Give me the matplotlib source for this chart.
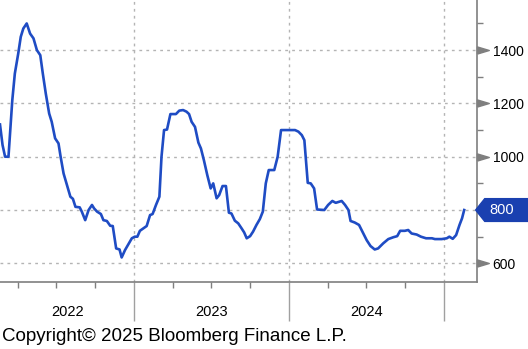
import matplotlib
matplotlib.use("Agg")
import matplotlib.pyplot as plt
import matplotlib.transforms as mtransforms
from matplotlib.path import Path
import numpy as np
import pandas as pd

# --- weekly series ---
dates = [
    "2022-02-18", "2022-02-24", "2022-03-02", "2022-03-10", "2022-03-19", "2022-03-25",
    "2022-04-02", "2022-04-08", "2022-04-14", "2022-04-22", "2022-04-30", "2022-05-08",
    "2022-05-16", "2022-05-24", "2022-05-30", "2022-06-06", "2022-06-14", "2022-06-20",
    "2022-06-28", "2022-07-06", "2022-07-11", "2022-07-18", "2022-07-26", "2022-08-03",
    "2022-08-09", "2022-08-15", "2022-08-25", "2022-08-30", "2022-09-07", "2022-09-15",
    "2022-09-23", "2022-09-28", "2022-10-05", "2022-10-14", "2022-10-20", "2022-10-28",
    "2022-11-05", "2022-11-11", "2022-11-19", "2022-11-27", "2022-12-02", "2022-12-10",
    "2022-12-18", "2022-12-26", "2023-01-02", "2023-01-08", "2023-01-14", "2023-01-22",
    "2023-01-30", "2023-02-07", "2023-02-13", "2023-02-21", "2023-03-01", "2023-03-06",
    "2023-03-12", "2023-03-19", "2023-03-27", "2023-04-09", "2023-04-17", "2023-04-26",
    "2023-05-04", "2023-05-10", "2023-05-16", "2023-05-24", "2023-06-01", "2023-06-07",
    "2023-06-14", "2023-06-22", "2023-06-30", "2023-07-06", "2023-07-14", "2023-07-20",
    "2023-07-28", "2023-08-05", "2023-08-12", "2023-08-18", "2023-08-26", "2023-09-03",
    "2023-09-11", "2023-09-17", "2023-09-23", "2023-10-01", "2023-10-08", "2023-10-16",
    "2023-10-24", "2023-10-31", "2023-11-07", "2023-11-14", "2023-11-27", "2023-12-05",
    "2023-12-13", "2024-01-15", "2024-01-23", "2024-01-31", "2024-02-06", "2024-02-14",
    "2024-02-21", "2024-02-29", "2024-03-07", "2024-03-24", "2024-04-02", "2024-04-12",
    "2024-04-20", "2024-05-04", "2024-05-12", "2024-05-20", "2024-05-25", "2024-06-04",
    "2024-06-14", "2024-06-24", "2024-07-02", "2024-07-11", "2024-07-21", "2024-07-29",
    "2024-08-10", "2024-08-22", "2024-09-03", "2024-09-12", "2024-09-19", "2024-09-30",
    "2024-10-08", "2024-10-16", "2024-10-28", "2024-11-07", "2024-11-19", "2024-12-03",
    "2024-12-10", "2024-12-26", "2025-01-07", "2025-01-13", "2025-01-21", "2025-01-29",
    "2025-02-06", "2025-02-12", "2025-02-17",
]
values = [
    1121, 1044, 1000, 1000, 1212, 1312, 1387, 1450, 1481, 1500, 1462, 1444,
    1400, 1381, 1312, 1237, 1162, 1131, 1069, 1050, 1000, 937, 894, 850,
    842, 812, 810, 794, 762, 800, 819, 806, 794, 785, 762, 759,
    741, 740, 656, 652, 622, 650, 672, 694, 700, 700, 722, 731,
    740, 781, 785, 819, 850, 1000, 1100, 1102, 1160, 1160, 1173, 1175,
    1169, 1160, 1131, 1112, 1053, 1031, 987, 931, 881, 900, 844, 856,
    890, 890, 790, 787, 760, 750, 731, 716, 694, 702, 719, 744,
    766, 794, 900, 950, 950, 1000, 1100, 1100, 1094, 1081, 1062, 902,
    900, 881, 802, 800, 819, 834, 827, 834, 819, 800, 759, 753,
    744, 712, 687, 665, 652, 656, 675, 691, 698, 702, 722, 722,
    725, 712, 708, 700, 694, 694, 691, 691, 694, 700, 692, 706,
    744, 769, 800,
]
year_labels = ["2022", "2023", "2024"]
major_y = [600, 800, 1000, 1200, 1400]

x = pd.to_datetime(dates)
last = values[-1]
line_blue = "#1f4cc4"
flag_blue = "#1a40b0"
axis_gray = "#7f7f7f"
grid_gray = "#b4b4b4"

plt.rcParams["font.family"] = ["Liberation Sans", "DejaVu Sans"]

fig = plt.figure(figsize=(5.28, 3.49), dpi=100)
ax = fig.add_axes([0.0, 0.192, 0.904, 0.808])

ax.plot(x, values, color=line_blue, lw=1.9, solid_joinstyle="round", zorder=3)

x0 = pd.Timestamp("2022-02-18")
x1 = pd.Timestamp("2025-03-20")
ax.set_xlim(x0, x1)
ax.set_ylim(530, 1588)

# spines
for s in ["left", "top"]:
    ax.spines[s].set_visible(False)
for s in ["right", "bottom"]:
    ax.spines[s].set_color(axis_gray)
    ax.spines[s].set_linewidth(1.2)

# y axis on the right, caret markers for major ticks
ax.yaxis.tick_right()
ax.set_yticks(major_y)
ax.set_yticks(np.arange(700, 1600, 200), minor=True)
ax.tick_params(axis="y", which="major", length=0, pad=11, labelsize=10)
ax.tick_params(axis="y", which="minor", length=4, width=1, color=axis_gray,
               direction="out")
ytrans = mtransforms.blended_transform_factory(ax.transAxes, ax.transData)
caret = [(0, -0.3), (1, 0), (0, 0.3), (0, -0.3)]
caret_y = [v for v in major_y if v != last]
ax.plot([1.0] * len(caret_y), caret_y, ls="none", marker=caret, ms=17,
        color=axis_gray, transform=ytrans, clip_on=False, zorder=4)
for lab in ax.get_yticklabels():
    if lab.get_text() == str(last):
        lab.set_visible(False)

# horizontal grid
for v in major_y:
    ax.axhline(v, color=grid_gray, lw=1, ls=(0, (2, 3)), zorder=1)

# x axis: quarter ticks, long year ticks, year grid lines
years = pd.to_datetime(["2022-01-01", "2023-01-01", "2024-01-01", "2025-01-01", "2026-01-01"])
ax.set_xticks([y for y in years if x0 <= y <= x1])
quarters = pd.date_range("2022-01-01", "2025-12-31", freq="QS")
ax.set_xticks([q for q in quarters if q.month != 1 and x0 <= q <= x1], minor=True)
ax.tick_params(axis="x", which="major", length=28, width=1, color="#a0a0a0",
               labelbottom=False)
ax.tick_params(axis="x", which="minor", length=4, width=1, color=axis_gray)
for y in years:
    if x0 < y < x1:
        ax.axvline(y, color=grid_gray, lw=1, ls=(0, (2, 3)), zorder=1)

xtrans = mtransforms.blended_transform_factory(ax.transData, ax.transAxes)
for i, lab in enumerate(year_labels):
    a = max(years[i], x0)
    b = min(years[i + 1], x1)
    mid = a + (b - a) / 2
    ax.text(mid, -0.107, lab, transform=xtrans, ha="center", va="center",
            fontsize=10.5)


# last value flag on the right axis
def flag_box(x0, y0, width, height, mutation_size):
    pad = 0.3 * mutation_size
    l, r = x0 - pad, x0 + width + pad * 6
    b, t = y0 - pad, y0 + height + pad
    tip = l - (t - b) * 0.4
    verts = [(tip, (b + t) / 2), (l, t), (r, t), (r, b), (l, b), (tip, (b + t) / 2)]
    codes = [Path.MOVETO] + [Path.LINETO] * 4 + [Path.CLOSEPOLY]
    return Path(verts, codes)


ax.annotate(str(last), xy=(1.0, last), xycoords=ytrans,
            xytext=(8.5, 0), textcoords="offset points", ha="left", va="center",
            color="white", fontsize=10.5, annotation_clip=False, zorder=5,
            bbox=dict(boxstyle=flag_box, fc=flag_blue, ec=flag_blue))

fig.text(0.004, 0.035, "Copyright\u00a9 2025 Bloomberg Finance L.P.",
         fontsize=13.5, ha="left", va="center")

fig.savefig("out.png", dpi=100)
